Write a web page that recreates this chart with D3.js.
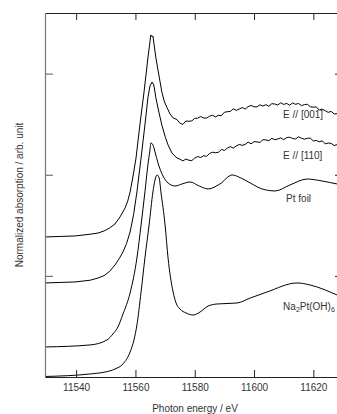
<!DOCTYPE html>
<html>
<head>
<meta charset="utf-8">
<script src="https://cdn.jsdelivr.net/npm/d3@7"></script>
<style>
  body { margin: 0; background: #fff; }
  svg { display: block; font-family: "Liberation Sans", Arial, sans-serif; }
</style>
</head>
<body>
<svg id="chart" width="337" height="414"></svg>
<script>
// Pt L3-edge XANES, stacked spectra: [photon energy (eV), normalized absorption (offset)]
const specE001 = [
  [11529.5, 1.385], [11534.6, 1.390], [11539.6, 1.395], [11544.7, 1.412], [11547.4, 1.424],
  [11549.4, 1.444], [11551.3, 1.474], [11553.1, 1.513], [11554.8, 1.583], [11556.5, 1.672],
  [11557.4, 1.740], [11558.2, 1.830], [11559.2, 1.988], [11560.2, 2.166], [11561.5, 2.493],
  [11562.9, 2.819], [11564.2, 3.155], [11564.9, 3.314], [11565.2, 3.383], [11565.6, 3.366],
  [11565.9, 3.373], [11566.9, 3.155], [11567.9, 2.987], [11568.9, 2.819], [11569.8, 2.720],
  [11570.7, 2.661], [11571.7, 2.600], [11572.7, 2.562],
  [11574, 2.546], [11575, 2.510], [11576, 2.498], [11577, 2.532], [11578, 2.529], [11579, 2.533],
  [11580, 2.558], [11581, 2.560], [11582, 2.576], [11583, 2.562], [11584, 2.560], [11585, 2.580],
  [11586, 2.588], [11587, 2.572], [11588, 2.588], [11589, 2.585], [11590, 2.618], [11591, 2.624],
  [11592, 2.626], [11593, 2.653], [11594, 2.637], [11595, 2.650], [11596, 2.665], [11597, 2.650],
  [11598, 2.674], [11599, 2.686], [11600, 2.672], [11601, 2.671], [11602, 2.692], [11603, 2.680],
  [11604, 2.693], [11605, 2.678], [11606, 2.703], [11607, 2.700], [11608, 2.690], [11609, 2.712],
  [11610, 2.696], [11611, 2.706], [11612, 2.688], [11613, 2.710], [11614, 2.697], [11615, 2.705],
  [11616, 2.684], [11617, 2.694], [11618, 2.697], [11619, 2.672], [11620, 2.668], [11621, 2.672],
  [11622, 2.640], [11623, 2.649], [11624, 2.634], [11625, 2.617], [11626, 2.627], [11627, 2.602],
  [11628, 2.604], [11629, 2.580], [11630, 2.588]
];

const specE110 = [
  [11529.5, 0.930], [11534.6, 0.935], [11539.6, 0.940], [11544.7, 0.957], [11547.4, 0.979],
  [11549.4, 1.002], [11551.3, 1.045], [11553.1, 1.108], [11554.5, 1.170], [11555.8, 1.236],
  [11557.0, 1.320], [11558.2, 1.434], [11559.4, 1.610], [11560.5, 1.830], [11561.9, 2.166],
  [11563.2, 2.493], [11564.2, 2.760], [11564.9, 2.878], [11565.6, 2.917], [11566.2, 2.888],
  [11566.9, 2.760], [11567.9, 2.620], [11568.9, 2.493], [11570.0, 2.380], [11571.0, 2.295],
  [11572.3, 2.216], [11574.0, 2.166],
  [11575, 2.154], [11576, 2.137], [11577, 2.155], [11578, 2.144], [11579, 2.140], [11580, 2.166],
  [11581, 2.180], [11582, 2.171], [11583, 2.188], [11584, 2.183], [11585, 2.210], [11586, 2.223],
  [11587, 2.218], [11588, 2.222], [11589, 2.252], [11590, 2.240], [11591, 2.264], [11592, 2.278],
  [11593, 2.264], [11594, 2.285], [11595, 2.300], [11596, 2.291], [11597, 2.300], [11598, 2.323],
  [11599, 2.306], [11600, 2.328], [11601, 2.325], [11602, 2.320], [11603, 2.347], [11604, 2.345],
  [11605, 2.337], [11606, 2.361], [11607, 2.346], [11608, 2.354], [11609, 2.365], [11610, 2.347],
  [11611, 2.367], [11612, 2.372], [11613, 2.359], [11614, 2.354], [11615, 2.376], [11616, 2.361],
  [11617, 2.352], [11618, 2.361], [11619, 2.362], [11620, 2.334], [11621, 2.340], [11622, 2.326],
  [11623, 2.336], [11624, 2.306], [11625, 2.314], [11626, 2.311], [11627, 2.289], [11628, 2.298],
  [11629, 2.276], [11630, 2.290]
];

const specPtFoil = [
  [11529.5, 0.297], [11544.7, 0.317], [11550.4, 0.366], [11552.4, 0.425], [11554.1, 0.495],
  [11555.8, 0.623], [11558.2, 0.831], [11560.5, 1.177], [11561.9, 1.503], [11563.2, 1.830],
  [11564.2, 2.097], [11564.9, 2.245], [11565.2, 2.315], [11565.9, 2.295], [11566.6, 2.226],
  [11567.6, 2.117], [11569.3, 1.988], [11571.0, 1.919], [11573.4, 1.889], [11575.7, 1.909],
  [11578.4, 1.929], [11581.5, 1.889], [11584.5, 1.860], [11588.5, 1.909], [11592.6, 1.998],
  [11595.6, 1.968], [11598.7, 1.919], [11602.7, 1.860], [11607.1, 1.840], [11612.1, 1.899],
  [11617.9, 1.958], [11622.9, 1.939], [11628.0, 1.909], [11630.0, 1.899]
];

const specNa2Pt = [
  [11529.5, 0.005], [11544.7, 0.030], [11549.7, 0.049], [11553.1, 0.079], [11555.8, 0.129],
  [11558.2, 0.247], [11559.5, 0.366], [11560.5, 0.514], [11561.9, 0.841], [11563.2, 1.177],
  [11564.6, 1.503], [11565.9, 1.830], [11566.6, 1.949], [11567.3, 1.998], [11568.0, 1.968],
  [11568.6, 1.830], [11570.0, 1.503], [11571.0, 1.177], [11572.7, 0.841], [11573.7, 0.732],
  [11575.0, 0.673], [11577.1, 0.633], [11579.4, 0.613], [11581.8, 0.643], [11584.5, 0.702],
  [11587.5, 0.722], [11594.3, 0.732], [11598.7, 0.781], [11604.4, 0.841], [11614.5, 0.930],
  [11618.9, 0.910], [11624.0, 0.861], [11628.0, 0.811], [11630.0, 0.791]
];

const seriesList = [specE001, specE110, specPtFoil, specNa2Pt];
const seriesNoisy = [true, true, false, false];

const xTicks = [11540, 11560, 11580, 11600, 11620];
const yTicks = [1, 2, 3];

// curve labels ('Na2Pt(OH)6' gets subscripts), anchor energy, anchor value
const labelText = ['E // [001]', 'E // [110]', 'Pt foil', 'Na2Pt(OH)6'];
const labelE = [11609.8, 11609.8, 11610.8, 11609.8];
const labelV = [2.557, 2.156, 1.726, 0.658];

const svg = d3.select('#chart');
const margin = { top: 13, left: 45, bottom: 37 };
const W = 343, H = 414;

const x = d3.scaleLinear().domain([11529.5, 11630]).range([margin.left, W]);
const y = d3.scaleLinear().domain([0, 3.6]).range([H - margin.bottom, margin.top]);

const ink = '#333';
const fontSize = '10px';

// curves: noisy measurements joined straight, the smooth references with a spline
const lineNoisy = d3.line().x(d => x(d[0])).y(d => y(d[1])).curve(d3.curveLinear);
const lineSmooth = d3.line().x(d => x(d[0])).y(d => y(d[1])).curve(d3.curveMonotoneX);

svg.append('g')
  .selectAll('path')
  .data(seriesList)
  .join('path')
  .attr('fill', 'none')
  .attr('stroke', '#000')
  .attr('stroke-width', 1)
  .attr('stroke-linejoin', 'round')
  .attr('d', (d, i) => seriesNoisy[i] ? lineNoisy(d) : lineSmooth(d));

// axes (ticks point inward)
const axBottom = svg.append('g')
  .attr('transform', `translate(0,${y(0)})`)
  .call(d3.axisBottom(x).tickValues(xTicks).tickFormat(d3.format('d')).tickSizeInner(-7).tickSizeOuter(0).tickPadding(7));
const axTop = svg.append('g')
  .attr('transform', `translate(0,${y(3.6)})`)
  .call(d3.axisTop(x).tickValues(xTicks).tickFormat('').tickSizeInner(-7).tickSizeOuter(0));
const axLeft = svg.append('g')
  .attr('transform', `translate(${x(11529.5)},0)`)
  .call(d3.axisLeft(y).tickValues(yTicks).tickFormat('').tickSizeInner(-8).tickSizeOuter(0));
const axRight = svg.append('g')
  .attr('transform', `translate(${x(11630)},0)`)
  .call(d3.axisRight(y).tickValues(yTicks).tickFormat('').tickSizeInner(-8).tickSizeOuter(0));

[axBottom, axTop, axRight].forEach(g => {
  g.selectAll('path, line').attr('stroke', '#222').attr('stroke-width', 1);
});
axLeft.selectAll('path, line').attr('stroke', '#777').attr('stroke-width', 1.2);

axBottom.selectAll('text')
  .attr('fill', ink)
  .style('font-size', fontSize)
  .style('font-family', '"Liberation Sans", Arial, sans-serif');

// axis titles
svg.append('text')
  .attr('x', 195)
  .attr('y', 411.5)
  .attr('text-anchor', 'middle')
  .attr('fill', ink)
  .style('font-size', fontSize)
  .text('Photon energy / eV');

svg.append('text')
  .attr('transform', 'translate(23,195) rotate(-90)')
  .attr('text-anchor', 'middle')
  .attr('fill', ink)
  .style('font-size', fontSize)
  .text('Normalized absorption / arb. unit');

// curve labels
labelText.forEach((t, i) => {
  const txt = svg.append('text')
    .attr('x', x(labelE[i]))
    .attr('y', y(labelV[i]))
    .attr('text-anchor', 'start')
    .attr('fill', ink)
    .style('font-size', fontSize);
  if (t !== 'Na2Pt(OH)6') {
    txt.text(t);
  } else {
    txt.append('tspan').text('Na');
    txt.append('tspan').attr('dy', 1.5).style('font-size', '7px').text('2');
    txt.append('tspan').attr('dy', -1.5).text('Pt(OH)');
    txt.append('tspan').attr('dy', 1.5).style('font-size', '7px').text('6');
  }
});
</script>
</body>
</html>
